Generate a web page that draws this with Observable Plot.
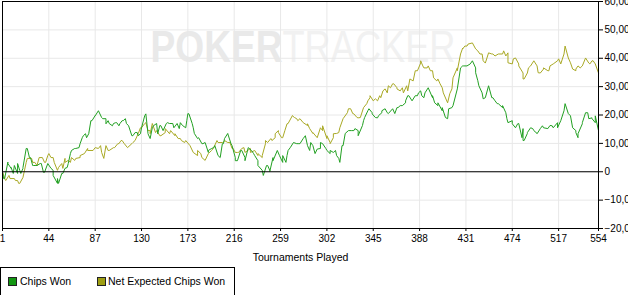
<!DOCTYPE html>
<html>
<head>
<meta charset="utf-8">
<script src="https://cdn.jsdelivr.net/npm/d3@7"></script>
<script src="https://cdn.jsdelivr.net/npm/@observablehq/plot@0.6"></script>
<style>
  html, body { margin: 0; padding: 0; background: #fff; overflow: hidden; }
  body { position: relative; width: 628px; height: 295px; font-family: "Liberation Sans", Arial, sans-serif; }
  #chart { position: absolute; left: 0; top: 0; }
  #legend { position: absolute; left: 0; top: 267px; width: 233px; height: 40px; border: 1px solid #000; font-size: 10.5px; color: #000; }
  #legend .sw { position: absolute; width: 7px; height: 7px; border: 1px solid #222; top: 9px; }
  #legend .lb { position: absolute; top: 7px; line-height: 12px; white-space: nowrap; }
</style>
</head>
<body>
<div id="chart"></div>
<div id="legend">
  <span class="sw" style="left:7px;background:#129612"></span><span class="lb" style="left:19px">Chips Won</span>
  <span class="sw" style="left:96px;background:#9e9e12"></span><span class="lb" style="left:107px">Net Expected Chips Won</span>
</div>
<script>
// Tick values
const xTicks = [1, 44, 87, 130, 173, 216, 259, 302, 345, 388, 431, 474, 517, 554];
const yTicks = [-20000, -10000, 0, 10000, 20000, 30000, 40000, 50000, 60000];

// Chips Won: [tournament, chips] (readings from two passes over the picture)
const chipsWon = [
  [1,0],[3,-2400],[6,3400],[9,1200],[12,2200],[15,-600],[17,500],[20,1200],[23,8200],[26,5000],
  [29,2200],[32,2200],[37,2900],[40,-200],[43,2900],[48,500],[52,-4100],[56,-600],[59,1200],[62,2900],
  [65,7500],[68,8200],[73,9900],[76,12700],[79,12000],[83,18000],[87,19800],[90,21500],[93,19100],[97,18700],
  [100,17000],[104,17000],[107,17300],[110,17000],[113,18000],[116,17000],[121,12700],[124,13800],[127,12700],[130,15500],
  [133,19800],[136,13500],[138,11700],[140,15500],[144,17000],[147,16300],[150,14500],[153,17000],[156,17000],[159,17000],
  [163,17000],[165,15200],[168,16300],[172,18000],[173,20500],[177,17000],[179,13500],[182,11700],[186,9900],[189,10300],
  [192,6800],[195,8200],[198,9200],[201,5700],[205,9900],[207,11700],[210,13500],[214,9200],[217,5000],[219,3900],
  [223,7500],[226,5000],[229,8500],[232,7500],[235,5700],[238,3900],[242,500],[243,-1300],[246,2200],[249,500],
  [252,5000],[256,7500],[258,5700],[261,3300],[265,5700],[268,8500],[271,10300],[274,9900],[277,9900],[280,11700],
  [284,9200],[286,7500],[289,9200],[293,8000],[296,8200],[298,9900],[302,7500],[305,6400],[308,6800],[311,5700],
  [313,4700],[316,9200],[319,13500],[322,14500],[325,14500],[328,15200],[331,14500],[335,16300],[337,19100],[340,21500],
  [344,20800],[347,19100],[350,19800],[353,20800],[356,22200],[359,20500],[363,22200],[365,20500],[368,22600],[372,23300],
  [375,24300],[377,26800],[381,25000],[384,26800],[387,27800],[390,26800],[393,27800],[396,29600],[400,26100],[402,24300],
  [405,23300],[409,21500],[412,19100],[415,22200],[419,23300],[423,29200],[426,36600],[429,37300],[432,37300],[435,38000],
  [437,39100],[440,36600],[442,32100],[446,27800],[449,26100],[452,30300],[455,26100],[458,25000],[461,24000],[465,22600],
  [468,20800],[470,17300],[474,18000],[477,15500],[480,17000],[484,15200],[485,11000],[488,13500],[491,15500],[494,14500],
  [497,13500],[500,15200],[503,15500],[507,15200],[509,16300],[512,15500],[516,17300],[519,18000],[522,21500],[523,24000],
  [526,20500],[530,15500],[533,14500],[535,12000],[539,16900],[542,20800],[545,18700],[548,19000],[551,17300],[554,14500],
  // second pass
  [2,-2400],[6,2900],[9,1500],[11,-600],[15,2900],[18,-600],[20,1500],[24,8200],[27,5000],[30,2200],
  [33,2200],[36,2900],[39,-200],[43,2900],[46,1200],[48,-1300],[52,-2400],[53,-4100],[57,-600],[61,1500],
  [64,6400],[69,8200],[72,8500],[75,12000],[78,13400],[81,13400],[84,18000],[87,19700],[90,21500],[94,18700],
  [97,16900],[99,18000],[103,16200],[106,17300],[109,16200],[112,18000],[115,18700],[118,16200],[122,12700],[126,13800],
  [129,13400],[134,20400],[136,13400],[141,16200],[145,13400],[148,16200],[154,17300],[160,15500],[166,17300],[171,15500],
  [174,20400],[178,15500],[183,12000],[187,9900],[192,7500],[197,8500],[203,5000],[206,9900],[210,13400],[213,9900],
  [217,3900],[222,7500],[226,3900],[229,8500],[234,6400],[238,2200],[243,-1300],[247,2200],[249,100],[252,3900],
  [256,7500],[261,5700],[264,3300],[266,7500],[271,10300],[276,9900],[282,12700],[287,10300],[291,6400],[296,10300],
  [301,8200],[305,7500],[310,7500],[314,3300],[317,9200],[322,14500],[327,14500],[331,12700],[336,18000],[341,22200],
  [344,20400],[349,19000],[353,21500],[358,20800],[363,22200],[367,22600],[370,23300],[375,25000],[378,26800],[381,25000],
  [386,26800],[389,28500],[392,26100],[396,29600],[400,26800],[405,24300],[409,22600],[414,18700],[418,22600],[423,29200],
  [428,37300],[432,37300],[437,39100],[440,34900],[443,30300],[447,25700],[452,30300],[456,26100],[460,24000],[465,23300],
  [469,18700],[474,16900],[479,16900],[483,12000],[484,11000],[488,13800],[493,15200],[497,13400],[502,16200],[507,15200],
  [511,16200],[516,15500],[519,18000],[523,24000],[528,19700],[533,13800],[535,13400],[539,17300],[544,20800],[548,18700],
  [551,19700]
].sort((a, b) => a[0] - b[0]);

// Net Expected Chips Won: [tournament, chips] (readings from two passes over the picture)
const netExpected = [
  [1,0],[3,-2400],[7,-1300],[12,-2400],[15,-3100],[17,-4100],[20,-2000],[23,3300],[28,4700],[31,3300],
  [35,5000],[40,3300],[43,5700],[46,5000],[49,3300],[52,500],[56,2900],[59,4700],[62,4000],[65,5000],
  [68,4000],[73,5000],[77,6400],[80,8200],[85,7500],[90,8200],[93,6800],[97,9200],[100,7500],[105,8500],
  [108,9900],[111,11000],[114,9900],[117,8500],[121,9900],[124,11000],[127,13500],[130,15500],[133,17000],[136,14500],
  [138,14500],[140,17000],[144,14500],[147,12700],[152,13800],[156,13400],[161,12700],[164,11700],[167,11000],[170,10300],
  [175,9200],[178,6800],[182,5700],[186,5000],[189,4000],[192,6400],[195,7500],[200,11000],[205,10300],[207,11000],
  [210,10300],[214,8200],[217,6800],[219,6800],[223,8200],[226,6800],[231,8200],[235,7500],[238,5700],[242,5000],
  [245,9900],[247,10300],[251,11000],[254,12000],[257,14500],[260,12000],[263,14500],[266,17000],[270,19800],[272,19100],
  [275,18000],[277,18700],[280,17300],[284,16300],[286,15200],[289,13500],[293,12000],[296,15500],[298,14500],[302,11700],
  [305,10300],[308,12000],[311,13500],[314,15500],[317,18700],[321,20800],[324,22200],[326,20500],[330,19100],[333,19100],
  [336,22600],[339,24000],[342,26100],[345,25000],[349,25000],[351,26800],[354,28500],[358,27800],[361,29600],[363,31000],
  [367,29600],[370,28500],[373,27800],[376,30300],[379,32700],[382,32000],[386,35600],[389,38300],[391,37300],[395,36600],
  [398,35600],[401,33100],[404,32000],[407,31000],[410,27800],[414,24300],[416,27500],[419,33100],[423,36600],[426,41500],
  [428,43600],[430,44300],[433,45000],[437,45400],[440,43300],[442,42600],[446,41500],[449,38300],[452,41900],[455,41500],
  [458,40800],[461,41500],[465,41500],[468,40800],[470,41900],[474,38000],[477,40100],[480,38000],[484,34800],[485,32700],
  [488,34800],[491,37300],[494,39100],[497,37300],[500,34800],[503,36200],[507,35600],[509,37300],[512,38000],[516,39100],
  [519,38000],[522,41500],[523,44300],[526,40100],[530,36200],[533,35600],[535,37300],[539,37300],[542,40100],[545,38300],
  [548,39100],[551,38000],[554,34800],
  // second pass
  [4,-3100],[8,-2400],[13,-3100],[16,-4100],[24,4700],[29,3300],[33,2200],[38,5000],[41,3300],[44,6400],
  [48,5000],[53,1500],[57,1200],[59,3300],[64,3300],[69,4700],[73,5700],[80,7500],[87,8500],[92,9200],
  [95,4700],[99,7500],[104,8500],[109,9900],[112,11000],[117,8500],[122,10300],[124,11000],[129,15500],[134,17300],
  [138,13400],[143,13800],[148,12700],[152,15200],[157,14500],[161,13400],[166,11700],[171,11000],[175,9200],[182,7500],
  [185,6400],[189,4000],[192,6400],[197,8500],[201,10300],[206,10300],[212,10300],[215,8200],[220,6800],[225,8500],
  [231,6800],[238,6400],[242,5700],[245,11000],[250,11700],[254,13400],[257,13800],[261,12000],[265,16900],[270,19700],
  [274,18700],[284,16900],[289,13800],[293,12000],[298,16200],[302,12700],[305,9900],[308,13400],[313,13800],[317,18700],
  [322,22200],[327,20400],[331,19000],[336,22600],[340,25000],[342,26800],[347,25700],[352,26100],[356,29200],[359,30300],
  [364,31000],[367,29200],[372,29600],[377,28500],[379,32700],[384,35600],[389,39100],[392,36600],[396,37300],[400,35600],
  [405,32700],[409,29600],[414,24300],[418,29200],[423,35600],[428,43300],[432,44300],[437,45400],[440,43300],[444,41500],
  [447,39100],[452,41900],[456,41500],[461,41500],[466,42600],[470,38400],[475,39800],[480,37300],[484,32700],[489,36600],
  [494,39100],[498,34900],[503,36600],[508,35600],[512,38000],[517,39800],[523,44300],[528,38400],[533,36200],[537,36600],
  [542,40100],[546,38000],[549,39100]
].sort((a, b) => a[0] - b[0]);

const watermark = ["POKER", "TRACKER"];
const xLabel = "Tournaments Played";

const chart = Plot.plot({
  width: 628,
  height: 267,
  marginLeft: 2,
  marginRight: 30,
  marginTop: 1,
  marginBottom: 39,
  style: { fontFamily: "Liberation Sans, Arial, sans-serif", fontSize: "10px", background: "white", color: "black", overflow: "visible" },
  x: { domain: [1, 554] },
  y: { domain: [-20000, 60000] },
  marks: [
    Plot.text([watermark.join("")], { frameAnchor: "top-left", dx: 148, dy: 46, lineAnchor: "middle", textAnchor: "start", fontSize: 44, fill: "#e9e9e9", className: "watermark" }),
    Plot.ruleX(xTicks, { stroke: "#e8e8e8" }),
    Plot.ruleY(yTicks, { stroke: "#e8e8e8" }),
    Plot.line(netExpected, { x: d => d[0], y: d => d[1], stroke: "#a9a925", strokeWidth: 1 }),
    Plot.line(chipsWon, { x: d => d[0], y: d => d[1], stroke: "#22a022", strokeWidth: 1 }),
    Plot.ruleY([0], { stroke: "black", strokeWidth: 1 }),
    Plot.frame({ stroke: "black" }),
    Plot.axisX(xTicks, { tickSize: 3, tickPadding: 3, label: null, fontSize: 10 }),
    Plot.axisY(yTicks, { anchor: "right", tickSize: 4, tickPadding: 2, tickFormat: d3.format(","), label: null, fontSize: 10 }),
    Plot.text([xLabel], { frameAnchor: "bottom", dy: 29, lineAnchor: "middle", fontSize: 10.5, fill: "black" })
  ]
});

// split the watermark into a bold and a light word, fitted to their measured widths
d3.select(chart).selectAll("text").each(function () {
  if (this.textContent !== watermark.join("")) return;
  const el = d3.select(this);
  el.text(null);
  el.append("tspan").text(watermark[0]).attr("font-weight", "bold").attr("fill", "#e9e9e9")
    .attr("textLength", 132).attr("lengthAdjust", "spacingAndGlyphs");
  el.append("tspan").text(watermark[1]).attr("font-weight", "normal").attr("fill", "#f1f1f1")
    .attr("textLength", 173).attr("lengthAdjust", "spacingAndGlyphs");
});

document.getElementById("chart").appendChild(chart);
</script>
</body>
</html>
